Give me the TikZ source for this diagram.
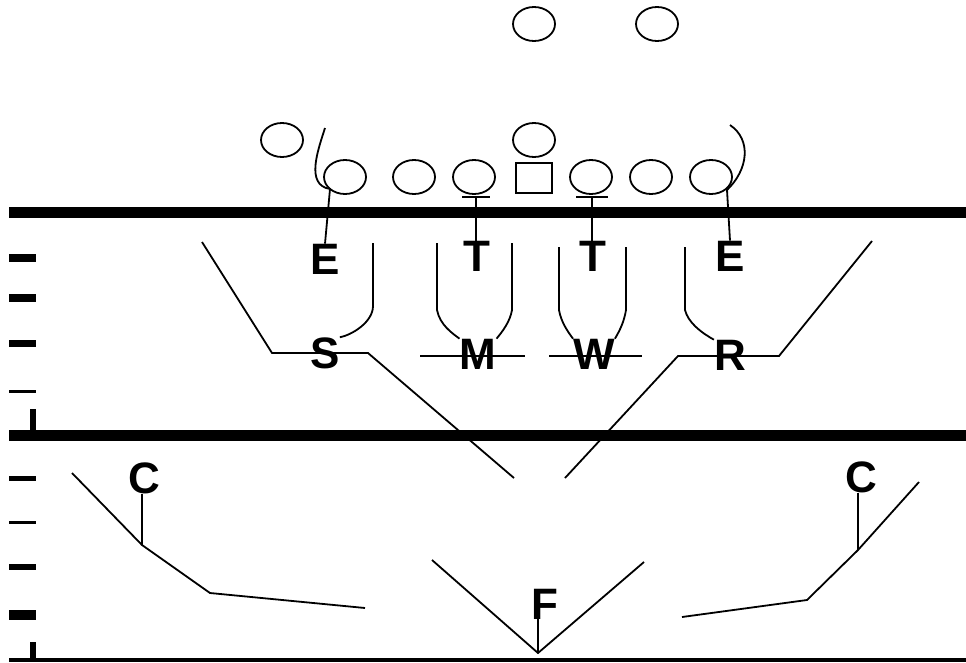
\documentclass[tikz,border=0pt]{standalone}
\usepackage{fontspec}
\setmainfont{Liberation Sans}
\usetikzlibrary{shapes.geometric}

\begin{document}
\begin{tikzpicture}[
  x=1pt, y=-1pt,
  player/.style={draw, ellipse, line width=1.8pt, minimum width=42pt,
                 minimum height=34pt, inner sep=0pt},
  snapper/.style={draw, rectangle, line width=1.8pt, minimum width=36pt,
                  minimum height=30pt, inner sep=0pt},
  def/.style={font=\fontsize{44}{44}\selectfont\bfseries, inner sep=0pt},
  route/.style={line width=1.8pt},
  yardline/.style={line width=11pt}]

\useasboundingbox (0,0) rectangle (966,662);

% Yard lines and marks
\draw[yardline] (9,212) -- (966,212);
\draw[yardline] (9,435.5) -- (966,435.5);
\draw[line width=4pt] (9,660) -- (966,660);
\foreach \y/\w in {258/8, 298/8, 343/7, 391/3, 478/5, 522/3, 567/6, 615/10}
  \draw[line width=\w pt] (9,\y) -- (36,\y);
\draw[line width=6pt] (33,409) -- (33,430);
\draw[line width=6pt] (33,642) -- (33,658);

% Offense
\node[player] (q1) at (534,24) {};
\node[player] (q2) at (657,24) {};
\node[player] (wb) at (282,140) {};
\node[player] (qb) at (534,140) {};
\node[player] (te) at (345,177) {};
\node[player] (lt) at (414,177) {};
\node[player] (lg) at (474,177) {};
\node[snapper] (ce) at (534,178) {};
\node[player] (rg) at (591,177) {};
\node[player] (rt) at (651,177) {};
\node[player] (tr) at (711,177) {};

% Front
\node[def] (el) at (325,259) {E};
\node[def] (tl) at (477,256) {T};
\node[def] (tr2) at (593,256) {T};
\node[def] (er) at (730,256) {E};
\coordinate (tkl) at (476,197);
\coordinate (tkr) at (592,197);
\draw[route] (325,128) .. controls (318,150) and (305,185) .. (330,189) -- (el.north);
\draw[route] (730,125) .. controls (752,140) and (748,170) .. (727,190) -- (er.north);
\draw[route] ([xshift=-14pt]tkl) -- ([xshift=14pt]tkl);
\draw[route] ([xshift=-16pt]tkr) -- ([xshift=16pt]tkr);
\draw[route] (tkl) -- (tkl |- tl.north);
\draw[route] (tkr) -- (tkr |- tr2.north);

% Linebackers
\node[def] (s) at (325,353) {S};
\node[def] (m) at (478,354) {M};
\node[def] (w) at (594,354) {W};
\node[def] (r) at (730,355) {R};
\draw[route] (202,242) -- (272,353) -- (368,353) -- (514,478);
\draw[route] (373,243) -- (373,306) .. controls (373,322) and (352,335) .. (s.north east);
\draw[route] (437,243) -- (437,310) .. controls (440,325) and (452,333) .. (m.north west);
\draw[route] (512,243) -- (512,310) .. controls (510,322) and (502,332) .. (m.north east);
\draw[route] (420,356) -- (525,356);
\draw[route] (559,247) -- (559,310) .. controls (561,322) and (568,332) .. (w.north west);
\draw[route] (626,247) -- (626,310) .. controls (624,322) and (620,330) .. (w.north east);
\draw[route] (549,356) -- (642,356);
\draw[route] (685,247) -- (685,310) .. controls (688,322) and (700,332) .. (r.north west);
\draw[route] (565,478) -- (678,356) -- (779,356) -- (872,241);

% Secondary
\node[def] (cl) at (144,478) {C};
\node[def] (cr) at (861,477) {C};
\node[def] (f) at (545,604) {F};
\coordinate (cvl) at (142,545);
\coordinate (cvr) at (858,550);
\coordinate (fv) at (538,653);
\draw[route] (72,473) -- (cvl) -- (210,593) -- (365,608);
\draw[route] (919,482) -- (cvr) -- (807,600) -- (682,617);
\draw[route] (432,560) -- (fv) -- (644,562);
\draw[route] (cvl) -- (cvl |- cl.south);
\draw[route] (cvr) -- (cvr |- cr.south);
\draw[route] (fv) -- (fv |- f.south);
\end{tikzpicture}
\end{document}
